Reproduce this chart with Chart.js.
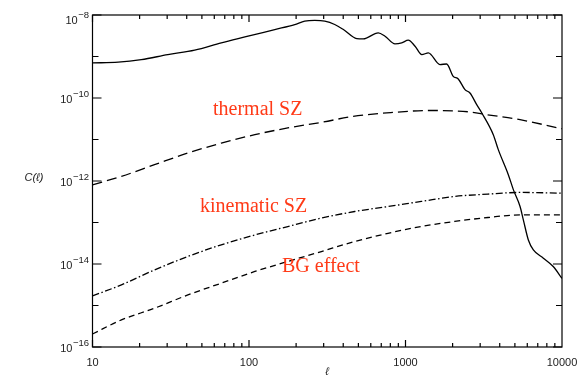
<!DOCTYPE html>
<html><head><meta charset="utf-8">
<script src="https://cdn.jsdelivr.net/npm/chart.js@4/dist/chart.umd.min.js"></script>
<style>html,body{margin:0;padding:0;background:#fff}</style>
</head><body>
<canvas id="c" width="583" height="379"></canvas>
<script>
// ---- data ----
const totalEll = [10,14.6,20.5,30.3,45,66.5,98.6,146,196,227,263,305,353,401,488,537,670,740,857,946,1042,1151,1271,1400,1660,1832,2018,2173,2399,2582,2851,3069,3639,3917,4539,4887,5395,5662,6095,6561,7603,8790,10000];
const totalC = [7.0e-10,7.3e-10,8.4e-10,1.11e-9,1.42e-9,2.13e-9,3.08e-9,4.47e-9,5.9e-9,7.1e-9,7.4e-9,7.1e-9,5.9e-9,4.47e-9,2.71e-9,2.66e-9,3.72e-9,3.08e-9,2.02e-9,2.13e-9,2.47e-9,1.77e-9,1.11e-9,1.22e-9,6.4e-10,6.6e-10,3.33e-10,2.88e-10,1.59e-10,1.32e-10,6.9e-11,4.4e-11,1.31e-11,5.7e-12,1.42e-12,6.2e-13,2.43e-13,1.16e-13,3.8e-14,2.19e-14,1.38e-14,8.7e-15,4.5e-15];

const thermalEll = [10,15.3,24.9,40.7,66.5,109,177,290,463,759,1445,2582,3304,5395,9462,10000];
const thermalC = [8.1e-13,1.29e-12,2.47e-12,4.73e-12,8.2e-12,1.31e-11,1.90e-11,2.59e-11,3.61e-11,4.37e-11,5.0e-11,4.61e-11,3.97e-11,3.01e-11,1.90e-11,1.82e-11];

const kinEll = [10,15.3,24.9,40.7,66.5,109,177,290,473,773,1262,2061,3365,5495,10000];
const kinematicC = [1.70e-15,3.14e-15,7.2e-15,1.52e-14,2.90e-14,5.0e-14,8.0e-14,1.28e-13,1.84e-13,2.43e-13,3.21e-13,4.24e-13,4.84e-13,5.30e-13,5.1e-13];
const bgC = [2.06e-16,4.49e-16,8.6e-16,1.80e-15,3.45e-15,6.6e-15,1.15e-14,2.00e-14,3.48e-14,5.5e-14,8.0e-14,1.06e-13,1.32e-13,1.53e-13,1.53e-13];

const xTickValues = [10,100,1000,10000];
const xTickLabels = ['10','100','1000','10000'];
const yTickValues = [1e-16,1e-15,1e-14,1e-13,1e-12,1e-11,1e-10,1e-9,1e-8];
const yTickBase = ['10','','10','','10','','10','','10'];
const yTickExp = ['−16','','−14','','−12','','−10','','−8'];
const curveLabels = ['thermal SZ','kinematic SZ','BG effect'];
const xTitle = 'ℓ';
const yTitle = 'C(ℓ)';

function pts(xs, ys){ return xs.map((x,i)=>({x:x,y:ys[i]})); }

const frame = {
  id:'frame',
  afterDraw(chart){
    const ctx = chart.ctx, a = chart.chartArea;
    const xs = chart.scales.x, ys = chart.scales.y;
    ctx.save();
    ctx.strokeStyle = '#000'; ctx.lineWidth = 1.2;
    ctx.strokeRect(a.left, a.top, a.right-a.left, a.bottom-a.top);
    ctx.beginPath();
    for (let d=10; d<10000; d*=10){
      for (let k=1; k<10; k++){
        const px = xs.getPixelForValue(d*k);
        const len = (k===1)?7:4;
        ctx.moveTo(px, a.bottom); ctx.lineTo(px, a.bottom-len);
        ctx.moveTo(px, a.top); ctx.lineTo(px, a.top+len);
      }
    }
    yTickValues.forEach((v,i)=>{
      const py = ys.getPixelForValue(v);
      const len = yTickBase[i] ? 9 : 6;
      ctx.moveTo(a.left, py); ctx.lineTo(a.left+len, py);
      ctx.moveTo(a.right, py); ctx.lineTo(a.right-len, py);
    });
    ctx.stroke();
    // y tick labels: "10" with superscript exponent
    ctx.fillStyle = '#222';
    ctx.textBaseline = 'alphabetic';
    yTickValues.forEach((v,i)=>{
      if (!yTickBase[i]) return;
      const py = ys.getPixelForValue(v);
      const base = (i === yTickValues.length-1) ? py + 8.5 : py + 5;
      ctx.font = '9.5px "Liberation Sans"';
      const ew = ctx.measureText(yTickExp[i]).width;
      ctx.textAlign = 'right';
      ctx.fillText(yTickExp[i], a.left - 3.5, base - 6);
      ctx.font = '11px "Liberation Sans"';
      ctx.fillText(yTickBase[i], a.left - 3.5 - ew - 0.5, base);
    });
    // titles
    ctx.font = 'italic 11px "Liberation Sans"';
    ctx.textAlign = 'center'; ctx.textBaseline = 'middle';
    ctx.fillText(xTitle, (a.left+a.right)/2, 372);
    ctx.fillText(yTitle, 34, 178);
    // curve labels
    ctx.fillStyle = '#ff3a17';
    ctx.font = '20px "Liberation Serif"';
    ctx.textAlign = 'left'; ctx.textBaseline = 'alphabetic';
    ctx.fillText(curveLabels[0], 213, 115);
    ctx.fillText(curveLabels[1], 200, 212);
    ctx.fillText(curveLabels[2], 282, 272);
    ctx.restore();
  }
};

const common = {pointRadius:0, borderColor:'#000', borderWidth:1.3, fill:false, cubicInterpolationMode:'monotone'};

new Chart(document.getElementById('c'), {
  type:'line',
  data:{datasets:[
    Object.assign({label:'total', data:pts(totalEll,totalC)}, common),
    Object.assign({label:curveLabels[0], data:pts(thermalEll,thermalC), borderDash:[10,5]}, common),
    Object.assign({label:curveLabels[1], data:pts(kinEll,kinematicC), borderDash:[7,2.5,1.5,2.5]}, common),
    Object.assign({label:curveLabels[2], data:pts(kinEll,bgC), borderDash:[6,4]}, common)
  ]},
  options:{
    responsive:false, animation:false, devicePixelRatio:1,
    layout:{padding:{left:0,right:21,top:15,bottom:0}},
    plugins:{legend:{display:false}, tooltip:{enabled:false}},
    scales:{
      x:{type:'logarithmic', min:10, max:10000,
        grid:{display:false, drawTicks:false}, border:{display:false},
        afterBuildTicks(s){ s.ticks = xTickValues.map(v=>({value:v})); },
        afterFit(s){ s.height = 32; s.paddingLeft = 0; s.paddingRight = 0; },
        ticks:{padding:9, color:'#222', font:{family:'Liberation Sans', size:11}, maxRotation:0, autoSkip:false,
          callback:(v,i)=>xTickLabels[i]}
      },
      y:{type:'logarithmic', min:1e-16, max:1e-8,
        grid:{display:false, drawTicks:false}, border:{display:false},
        afterBuildTicks(s){ s.ticks = yTickValues.map(v=>({value:v})); },
        afterFit(s){ s.width = 92.5; s.paddingTop = 0; s.paddingBottom = 0; },
        ticks:{display:false}
      }
    }
  },
  plugins:[frame]
});
</script>
</body></html>
